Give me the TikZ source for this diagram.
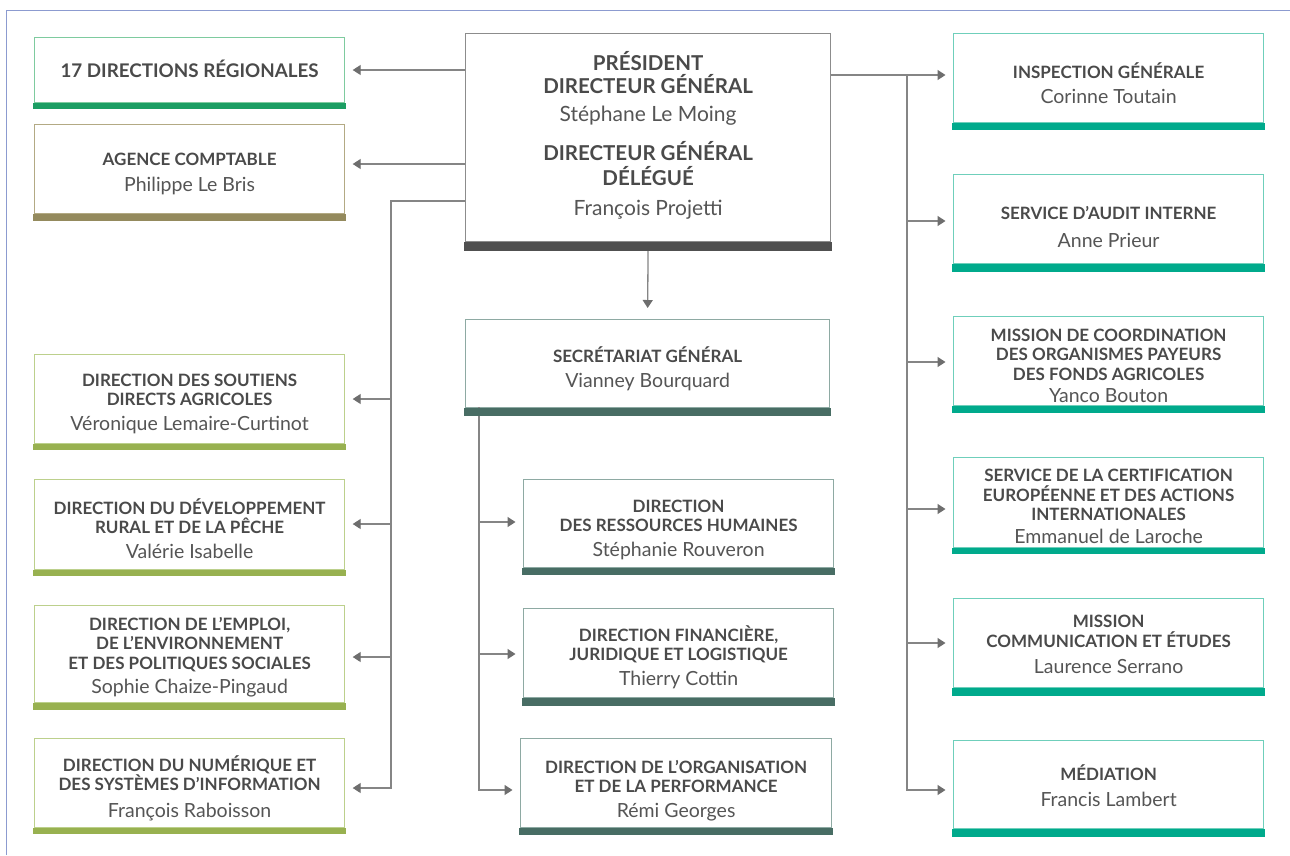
\documentclass[tikz,border=0pt]{standalone}
\usepackage{fontspec}
\setmainfont{Lato}
\usetikzlibrary{arrows.meta}
\definecolor{cReg}{HTML}{1B9E63}\definecolor{cRegB}{HTML}{7ECB9F}
\definecolor{cAg}{HTML}{948A5D}\definecolor{cAgB}{HTML}{B3AA84}
\definecolor{cDir}{HTML}{98B150}\definecolor{cDirB}{HTML}{BCD08C}
\definecolor{cPres}{HTML}{505050}\definecolor{cPresB}{HTML}{8C8C8C}
\definecolor{cSG}{HTML}{486D64}\definecolor{cSGB}{HTML}{8EAAA3}
\definecolor{cRt}{HTML}{00AA8C}\definecolor{cRtB}{HTML}{6FCFBB}
\definecolor{cTtl}{HTML}{4A4A4A}\definecolor{cNm}{HTML}{555555}
\definecolor{cLine}{HTML}{858585}\definecolor{cTip}{HTML}{6E6E6E}
\definecolor{cFrame}{HTML}{8C9BD0}
\newcommand\ttl{\fontsize{17}{19.5}\selectfont\bfseries\color{cTtl}}
\newcommand\nm{\fontsize{19.5}{19.5}\selectfont\mdseries\color{cNm}}
\newcommand\pttl{\fontsize{20.5}{23}\selectfont\bfseries\color{cTtl}}
\newcommand\pnm{\fontsize{21}{23}\selectfont\mdseries\color{cNm}}
% #1 name, #2 x, #3 y top, #4 width, #5 height, #6 border colour, #7 text shift down, #8 text
\newcommand\orgbox[8]{%
  \node[obox=#6, minimum width=#4, minimum height=#5] (#1) at (#2,#3) {};
  \node[txt] (#1-t) at ([yshift=-#7pt]#1.center) {#8};}
\begin{document}
\begin{tikzpicture}[x=1pt,y=-1pt,
  obox/.style={draw=#1, line width=1.2pt, inner sep=0pt, anchor=north west},
  txt/.style={inner sep=0pt, align=center, font=\ttl},
  ln/.style={draw=cLine, line width=1.3pt},
  arr/.style={ln, -{Triangle[length=8pt,width=10pt,color=cTip]}, shorten >=7.5pt}]
\useasboundingbox (0,0) rectangle (1290,855);
\fill[white] (0,0) rectangle (1290,855);
\draw[cFrame, line width=1pt] (6,855) -- (6,10) -- (1290,10);

% left column
\orgbox{reg}{34}{37}{310}{65}{cRegB}{-1}
  {\fontsize{18.8}{19.5}\selectfont\bfseries\color{cTtl}17 DIRECTIONS RÉGIONALES}
\orgbox{agence}{34}{124}{310}{89}{cAgB}{5}
  {\ttl AGENCE COMPTABLE\\[6pt]\nm Philippe Le Bris}
\orgbox{sout}{34}{354}{310}{89}{cDirB}{4.5}
  {\ttl DIRECTION DES SOUTIENS\\\ttl DIRECTS AGRICOLES\\[5pt]\nm Véronique Lemaire-Curtinot}
\orgbox{dev}{34}{479}{310}{90}{cDirB}{4}
  {\ttl DIRECTION DU DÉVELOPPEMENT\\\ttl RURAL ET DE LA PÊCHE\\[5pt]\nm Valérie Isabelle}
\orgbox{emploi}{34}{605}{310}{97}{cDirB}{3}
  {\ttl DIRECTION DE L’EMPLOI,\\\ttl DE L’ENVIRONNEMENT\\\ttl ET DES POLITIQUES SOCIALES\\[5pt]\nm Sophie Chaize-Pingaud}
\orgbox{num}{34}{738}{310}{89}{cDirB}{5}
  {\ttl DIRECTION DU NUMÉRIQUE ET\\\ttl DES SYSTÈMES D’INFORMATION\\[7pt]\nm François Raboisson}

% centre column
\node[obox=cPresB, minimum width=365, minimum height=208] (pres) at (465,33) {};
\node[txt, font=\pttl] (pres-t) at ([yshift=2.5pt]pres.center)
  {\pttl PRÉSIDENT\\\pttl DIRECTEUR GÉNÉRAL\\[5pt]\pnm Stéphane Le Moing\\[16pt]\pttl DIRECTEUR GÉNÉRAL\\[2pt]\pttl DÉLÉGUÉ\\[7pt]\pnm François Projetti};
\orgbox{sg}{465}{319}{364}{88}{cSGB}{5}
  {\ttl SECRÉTARIAT GÉNÉRAL\\[5pt]\nm Vianney Bourquard}
\orgbox{drh}{523}{479}{310}{88}{cSGB}{6}
  {\ttl DIRECTION\\\ttl DES RESSOURCES HUMAINES\\[5pt]\nm Stéphanie Rouveron}
\orgbox{fin}{523}{608}{310}{89}{cSGB}{4}
  {\ttl DIRECTION FINANCIÈRE,\\\ttl JURIDIQUE ET LOGISTIQUE\\[5pt]\nm Thierry Cottin}
\orgbox{org}{520}{738}{311}{89}{cSGB}{7.5}
  {\ttl DIRECTION DE L’ORGANISATION\\\ttl ET DE LA PERFORMANCE\\[5pt]\nm Rémi Georges}

% right column
\orgbox{insp}{953}{33}{310}{89}{cRtB}{5}
  {\ttl INSPECTION GÉNÉRALE\\[5pt]\nm Corinne Toutain}
\orgbox{audit}{953}{174}{310}{89}{cRtB}{8}
  {\ttl SERVICE D’AUDIT INTERNE\\[9pt]\nm Anne Prieur}
\orgbox{mcoord}{953}{316}{310}{89}{cRtB}{5}
  {\ttl MISSION DE COORDINATION\\\ttl DES ORGANISMES PAYEURS\\\ttl DES FONDS AGRICOLES\\[3pt]\nm Yanco Bouton}
\orgbox{certif}{953}{457}{310}{90}{cRtB}{4}
  {\ttl SERVICE DE LA CERTIFICATION\\\ttl EUROPÉENNE ET DES ACTIONS\\\ttl INTERNATIONALES\\[3pt]\nm Emmanuel de Laroche}
\orgbox{mcomm}{953}{598}{310}{89}{cRtB}{1.5}
  {\ttl MISSION\\\ttl COMMUNICATION ET ÉTUDES\\[7pt]\nm Laurence Serrano}
\orgbox{med}{953}{740}{310}{88}{cRtB}{1}
  {\ttl MÉDIATION\\[7pt]\nm Francis Lambert}

% connectors: president to the left
\draw[arr] (pres.west |- 0,70) -- (reg.east |- 0,70);
\draw[arr] (pres.west |- 0,164) -- (agence.east |- 0,164);
\coordinate (lt) at (391,201);
\draw[arr] (pres.west |- lt) -- (lt) -- (lt |- 0,788) -- (num.east |- 0,788);
\foreach \n/\y in {sout/399, dev/524, emploi/657}
  \draw[arr] (lt |- 0,\y) -- (\n.east |- 0,\y);

% president to the right
\coordinate (rt) at (907,75);
\draw[arr] (pres.east |- rt) -- (insp.west |- rt);
\draw[arr] (rt) -- (rt |- 0,790) -- (med.west |- 0,790);
\foreach \n/\y in {audit/221, mcoord/362, certif/509, mcomm/643}
  \draw[arr] (rt |- 0,\y) -- (\n.west |- 0,\y);

% president down to secretariat
\draw[arr, shorten >=11pt] (pres.south) -- (sg.north);

% secretariat to its directions
\coordinate (st) at (479,407);
\draw[arr] (st) -- (st |- 0,790) -- (org.west |- 0,790);
\foreach \n/\y in {drh/522, fin/654}
  \draw[arr] (st |- 0,\y) -- (\n.west |- 0,\y);

% coloured bars under boxes
\foreach \n/\c/\h in {reg/cReg/6, agence/cAg/7, sout/cDir/6, dev/cDir/6, emploi/cDir/7, num/cDir/6,
    pres/cPres/9, sg/cSG/8, drh/cSG/7, fin/cSG/8, org/cSG/7,
    insp/cRt/7, audit/cRt/8, mcoord/cRt/7, certif/cRt/6, mcomm/cRt/8, med/cRt/8}
  \fill[\c] ([xshift=-0.6pt]\n.south west) rectangle ([xshift=0.6pt,yshift=-\h pt]\n.south east);
\end{tikzpicture}
\end{document}
